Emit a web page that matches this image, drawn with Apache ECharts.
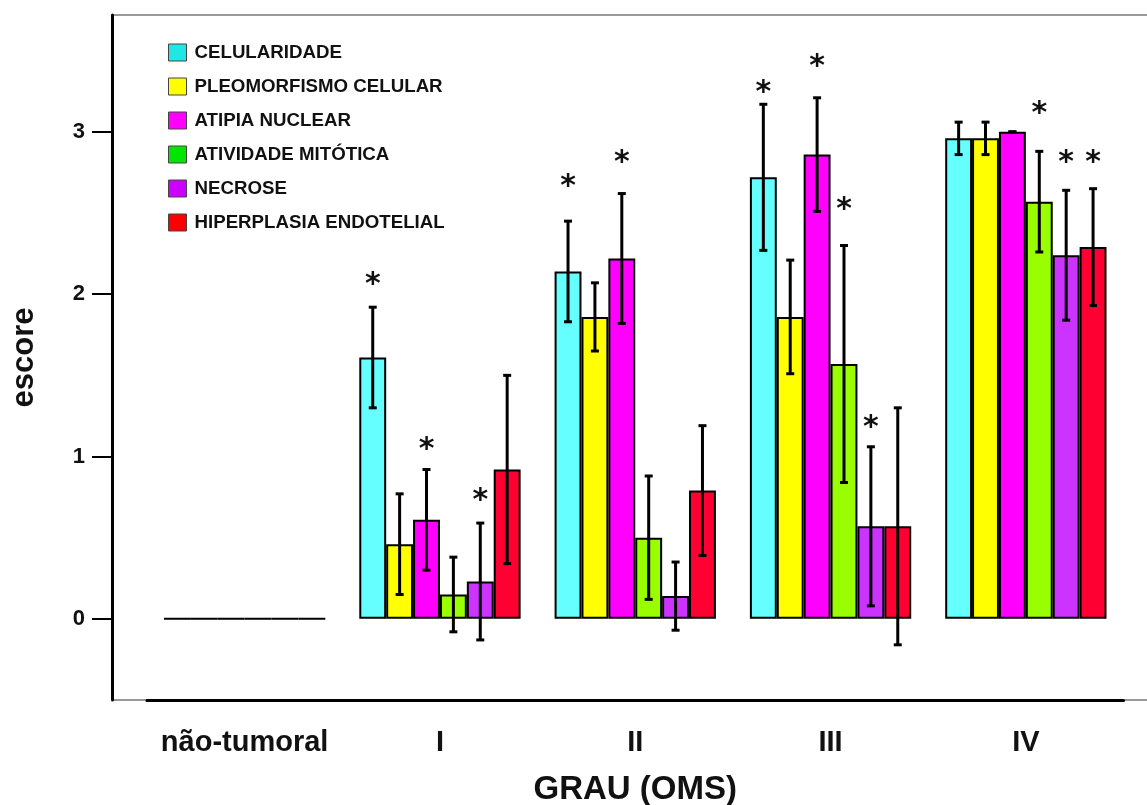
<!DOCTYPE html>
<html>
<head>
<meta charset="utf-8">
<script src="https://cdn.jsdelivr.net/npm/echarts@6.0.0/dist/echarts.min.js"></script>
<style>
  html, body { margin: 0; padding: 0; background: #fff; }
  #chart { width: 1147px; height: 805px; }
</style>
</head>
<body>
<div id="chart"></div>
<script>
// categorias (grau OMS)
var categories = ["não-tumoral", "I", "II", "III", "IV"];
var seriesNames = [
  "CELULARIDADE",
  "PLEOMORFISMO CELULAR",
  "ATIPIA NUCLEAR",
  "ATIVIDADE MITÓTICA",
  "NECROSE",
  "HIPERPLASIA ENDOTELIAL"
];
var yTicks = [0, 1, 2, 3];

// médias
var celularidade = [0, 1.61, 2.14, 2.72, 2.96];
var pleomorfismo = [0, 0.46, 1.86, 1.86, 2.96];
var atipia = [0, 0.61, 2.22, 2.86, 3.0];
var atividade = [0, 0.15, 0.5, 1.57, 2.57];
var necrose = [0, 0.23, 0.14, 0.57, 2.24];
var hiperplasia = [0, 0.92, 0.79, 0.57, 2.29];

// desvios (barras de erro)
var errCelularidade = [0, 0.31, 0.31, 0.45, 0.1];
var errPleomorfismo = [0, 0.31, 0.21, 0.35, 0.1];
var errAtipia = [0, 0.31, 0.4, 0.35, 0];
var errAtividade = [0, 0.23, 0.38, 0.73, 0.31];
var errNecrose = [0, 0.36, 0.21, 0.49, 0.4];
var errHiperplasia = [0, 0.58, 0.4, 0.73, 0.36];

// nível do asterisco (significância), null = sem asterisco
var starCelularidade = [null, 2.1, 2.7, 3.28, null];
var starPleomorfismo = [null, null, null, null, null];
var starAtipia = [null, 1.08, 2.85, 3.44, null];
var starAtividade = [null, null, null, 2.56, 3.15];
var starNecrose = [null, 0.77, null, 1.22, 2.85];
var starHiperplasia = [null, null, null, null, 2.85];

var means = [celularidade, pleomorfismo, atipia, atividade, necrose, hiperplasia];
var errs = [errCelularidade, errPleomorfismo, errAtipia, errAtividade, errNecrose, errHiperplasia];
var stars = [starCelularidade, starPleomorfismo, starAtipia, starAtividade, starNecrose, starHiperplasia];

var barColors = ["#66ffff", "#ffff00", "#ff00ff", "#99ff00", "#cc33ff", "#ff0033"];
var legendColors = ["#22e6e6", "#ffff00", "#ff00ff", "#00e600", "#cc00ff", "#ff0000"];
var gapRatio = 0.174;
var font = "'Liberation Sans', Arial, sans-serif";

var chart = echarts.init(document.getElementById("chart"));

var barSeries = seriesNames.map(function(name, s) {
  return {
    name: name,
    type: "bar",
    barGap: "0%",
    barCategoryGap: gapRatio * 100 + "%",
    itemStyle: { color: barColors[s], borderColor: "#000", borderWidth: 2 },
    data: means[s],
    z: 2
  };
});

var errData = [];
for (var s = 0; s < seriesNames.length; s++) {
  for (var c = 0; c < categories.length; c++) {
    errData.push([c, s, means[s][c], errs[s][c], stars[s][c] == null ? "-" : stars[s][c]]);
  }
}

function renderErr(params, api) {
  var c = api.value(0), s = api.value(1), m = api.value(2), e = api.value(3), st = api.value(4);
  if (m === 0 && e === 0) return;
  var catW = api.size([1, 0])[0];
  var bw = (catW * (1 - gapRatio)) / 6;
  var cx = api.coord([c, 0])[0] + (s - 2.5) * bw;
  var yTop = api.coord([c, m + e])[1];
  var yBot = api.coord([c, m - e])[1];
  var st2 = { stroke: "#000", lineWidth: 3 };
  var children = [
    { type: "line", shape: { x1: cx, y1: yTop, x2: cx, y2: yBot }, style: st2 },
    { type: "line", shape: { x1: cx - 4, y1: yTop, x2: cx + 4, y2: yTop }, style: st2 },
    { type: "line", shape: { x1: cx - 4, y1: yBot, x2: cx + 4, y2: yBot }, style: st2 }
  ];
  if (!isNaN(st)) {
    children.push({
      type: "text",
      style: {
        text: "*",
        x: cx,
        y: api.coord([c, st])[1] + 7,
        align: "center",
        verticalAlign: "middle",
        fontSize: 30,
        fontWeight: "bold",
        fontFamily: "'DejaVu Sans', sans-serif",
        fill: "#111"
      }
    });
  }
  return { type: "group", children: children };
}

var option = {
  animation: false,
  backgroundColor: "#fff",
  grid: { left: 147, right: 23.5, top: 15, bottom: 105, containLabel: false, outerBoundsMode: "none" },
  legend: {
    orient: "vertical",
    left: 168,
    top: 43,
    padding: 0,
    itemWidth: 18,
    itemHeight: 17,
    itemGap: 15,
    icon: "rect",
    textStyle: { fontFamily: font, fontWeight: "bold", fontSize: 18.7, color: "#111", padding: [0, 0, 0, 3] },
    data: seriesNames.map(function(n, i) {
      return { name: n, itemStyle: { color: legendColors[i], borderColor: "#444", borderWidth: 1 } };
    })
  },
  xAxis: {
    type: "category",
    data: categories,
    name: "GRAU (OMS)",
    nameLocation: "middle",
    nameGap: 73,
    nameTextStyle: { fontFamily: font, fontWeight: "bold", fontSize: 33, color: "#111" },
    axisLine: { onZero: false, lineStyle: { color: "#000", width: 3 } },
    axisTick: { length: 20, lineStyle: { color: "#000", width: 2.5 } },
    axisLabel: { interval: 0, margin: 28, fontFamily: font, fontWeight: "bold", fontSize: 29, color: "#111" },
    splitLine: { show: false }
  },
  yAxis: {
    type: "value",
    min: -0.5,
    max: 3.72,
    offset: 35,
    name: "escore",
    nameLocation: "middle",
    nameGap: 72,
    nameTextStyle: { fontFamily: font, fontWeight: "bold", fontSize: 31, color: "#111" },
    axisLine: { show: true, lineStyle: { color: "#000", width: 3 } },
    axisTick: { show: true, length: 20, customValues: yTicks, lineStyle: { color: "#000", width: 2 } },
    axisLabel: { margin: 27, customValues: yTicks, fontFamily: font, fontWeight: "bold", fontSize: 22, color: "#111" },
    splitLine: { show: false }
  },
  graphic: [
    { type: "line", shape: { x1: 112, y1: 15, x2: 1147, y2: 15 }, style: { stroke: "#777", lineWidth: 1.5 } },
    { type: "line", shape: { x1: 112, y1: 700, x2: 147, y2: 700 }, style: { stroke: "#777", lineWidth: 1.5 } },
    { type: "line", shape: { x1: 1123, y1: 700, x2: 1147, y2: 700 }, style: { stroke: "#777", lineWidth: 1.5 } }
  ],
  series: barSeries.concat([
    {
      type: "custom",
      renderItem: renderErr,
      data: errData,
      encode: { x: 0, y: 2 },
      z: 5,
      silent: true
    }
  ])
};

chart.setOption(option);
</script>
</body>
</html>
